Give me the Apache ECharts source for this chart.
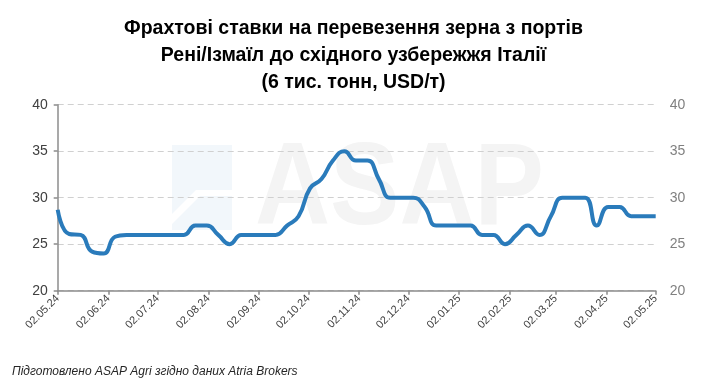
<!DOCTYPE html>
<html>
<head>
<meta charset="utf-8">
<script src="https://cdn.jsdelivr.net/npm/echarts@6/dist/echarts.min.js"></script>
<style>
html,body{margin:0;padding:0;background:#fff;}
#chart{width:707px;height:390px;}
</style>
</head>
<body>
<div id="chart"></div>
<script>
// ---- data ----
const titleLines = [
  'Фрахтові ставки на перевезення зерна з портів',
  'Рені/Ізмаїл до східного узбережжя Італії',
  '(6 тис. тонн, USD/т)'
];
const footnote = 'Підготовлено ASAP Agri згідно даних Atria Brokers';
const tickLabels = ['02.05.24','02.06.24','02.07.24','02.08.24','02.09.24','02.10.24','02.11.24','02.12.24','02.01.25','02.02.25','02.03.25','02.04.25','02.05.25'];
const dates = [
  '2024-05-02','2024-05-09','2024-05-16','2024-05-23','2024-05-30',
  '2024-06-06','2024-06-13','2024-06-20','2024-06-27',
  '2024-07-04','2024-07-11','2024-07-18','2024-07-25',
  '2024-08-01','2024-08-08','2024-08-15','2024-08-22','2024-08-29',
  '2024-09-05','2024-09-12','2024-09-19','2024-09-26',
  '2024-10-03','2024-10-10','2024-10-17','2024-10-24','2024-10-31',
  '2024-11-07','2024-11-14','2024-11-21','2024-11-28',
  '2024-12-05','2024-12-12','2024-12-19','2024-12-26',
  '2025-01-02','2025-01-09','2025-01-16','2025-01-23','2025-01-30',
  '2025-02-06','2025-02-13','2025-02-20','2025-02-27',
  '2025-03-06','2025-03-13','2025-03-20','2025-03-27',
  '2025-04-03','2025-04-10','2025-04-17','2025-04-24',
  '2025-05-02'
];
const rates = [
  28.7, 26.1, 26.0, 24.2, 24.0,
  25.8, 26.0, 26.0, 26.0,
  26.0, 26.0, 26.0, 27.0,
  27.0, 26.0, 25.0, 26.0, 26.0,
  26.0, 26.0, 27.0, 28.0,
  31.0, 32.0, 34.0, 35.0, 34.0,
  34.0, 32.0, 30.0, 30.0,
  30.0, 29.0, 27.0, 27.0,
  27.0, 27.0, 26.0, 26.0, 25.0,
  26.0, 27.0, 26.0, 28.0,
  30.0, 30.0, 30.0, 27.0,
  29.0, 29.0, 28.0, 28.0,
  28.0
];
const yMin = 20, yMax = 40, yStep = 5;

// ---- helpers ----
const DAY = 86400000;
const t0 = Date.UTC(2024, 4, 2);
function isoDay(s){ const p = s.split('-'); return (Date.UTC(+p[0], +p[1]-1, +p[2]) - t0) / DAY; }
function labelDay(s){ const p = s.split('.'); return (Date.UTC(2000 + +p[2], +p[1]-1, +p[0]) - t0) / DAY; }
const tickDays = tickLabels.map(labelDay);
const dayToLabel = {};
tickDays.forEach((d,i)=>{ dayToLabel[d] = tickLabels[i]; });
const seriesData = dates.map((d,i)=>[isoDay(d), rates[i]]);

const chart = echarts.init(document.getElementById('chart'), null, {renderer:'canvas'});
const FONT = 'Liberation Sans, Arial, sans-serif';
chart.setOption({
  animation: false,
  backgroundColor: '#ffffff',
  title: {
    text: titleLines.join('\n'),
    left: 'center',
    top: 10,
    textStyle: { fontFamily: FONT, fontSize: 19.5, fontWeight: 'bold', color: '#000', lineHeight: 27 }
  },
  grid: { left: 57.7, right: 51.3, top: 104.7, bottom: 99.3, containLabel: false },
  xAxis: {
    type: 'value',
    min: tickDays[0],
    max: tickDays[tickDays.length-1],
    axisLine: { show: true, lineStyle: { color: '#8c8c8c', width: 1.5 } },
    axisTick: { show: true, customValues: tickDays, length: 4, lineStyle: { color: '#8c8c8c', width: 1.5 } },
    axisLabel: {
      customValues: tickDays,
      rotate: 45,
      fontFamily: FONT, fontSize: 11, color: '#404040', margin: 6,
      formatter: v => dayToLabel[v] || ''
    },
    splitLine: { show: false }
  },
  yAxis: [
    {
      type: 'value', min: yMin, max: yMax, interval: yStep, position: 'left',
      axisLine: { show: true, lineStyle: { color: '#8c8c8c', width: 1.5 } },
      axisTick: { show: true, length: 4, lineStyle: { color: '#8c8c8c', width: 1.5 } },
      axisLabel: { fontFamily: FONT, fontSize: 14, color: '#404040', margin: 10 },
      splitLine: { show: true, lineStyle: { color: '#d0d0d0', width: 1.2, type: [6, 4] } }
    },
    {
      type: 'value', min: yMin, max: yMax, interval: yStep, position: 'right',
      axisLine: { show: false }, axisTick: { show: false },
      axisLabel: { fontFamily: FONT, fontSize: 14, color: '#808080', margin: 14 },
      splitLine: { show: false }
    }
  ],
  graphic: [
    { type: 'rect', z: -10, silent: true, shape: { x: 172, y: 145, width: 60, height: 85 }, style: { fill: '#f2f7fb' } },
    { type: 'polygon', z: -9, silent: true, shape: { points: [[172,214],[196,190],[232,190],[232,196],[200,196],[172,224]] }, style: { fill: '#ffffff' } },
    { type: 'text', z: -10, silent: true, x: 255, y: 134, scaleY: 1.12,
      style: { text: 'ASAP', font: 'bold 104px ' + FONT, fill: '#f4f4f4' } },
    { type: 'text', left: 12, top: 366, silent: true,
      style: { text: footnote, font: 'italic 12px ' + FONT, fill: '#262626' } }
  ],
  series: [{
    type: 'line',
    yAxisIndex: 0,
    data: seriesData,
    smooth: 0.5,
    showSymbol: false,
    lineStyle: { color: '#2a7bbb', width: 4 },
    z: 5
  }]
});
</script>
</body>
</html>
